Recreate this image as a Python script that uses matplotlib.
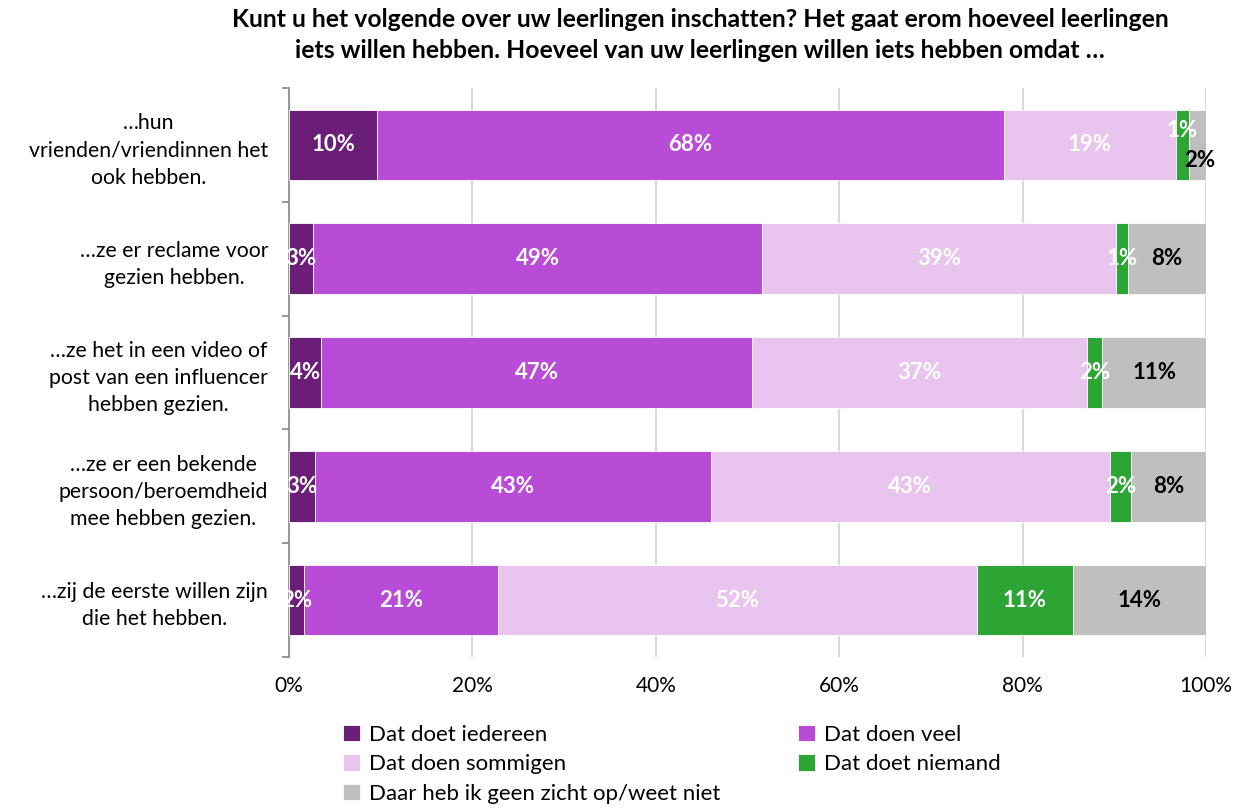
import matplotlib
matplotlib.use("Agg")
import matplotlib.pyplot as plt
import numpy as np

plt.rcParams['font.family'] = ['Lato', 'DejaVu Sans']

categories = [
    "…hun\nvrienden/vriendinnen het\nook hebben.",
    "…ze er reclame voor\ngezien hebben.",
    "…ze het in een video of\npost van een influencer\nhebben gezien.",
    "…ze er een bekende\npersoon/beroemdheid\nmee hebben gezien.",
    "…zij de eerste willen zijn\ndie het hebben.",
]
series_names = ["Dat doet iedereen", "Dat doen veel", "Dat doen sommigen",
                "Dat doet niemand", "Daar heb ik geen zicht op/weet niet"]
iedereen = [9.6, 2.6, 3.5, 2.8, 1.6]
veel = [68.4, 49.0, 47.0, 43.2, 21.2]
sommigen = [18.7, 38.6, 36.5, 43.5, 52.2]
niemand = [1.4, 1.3, 1.7, 2.3, 10.5]
weet_niet = [1.9, 8.5, 11.3, 8.2, 14.5]
labels = [
    ["10%", "3%", "4%", "3%", "2%"],
    ["68%", "49%", "47%", "43%", "21%"],
    ["19%", "39%", "37%", "43%", "52%"],
    ["1%", "1%", "2%", "2%", "11%"],
    ["2%", "8%", "11%", "8%", "14%"],
]
colors = ["#6A1E78", "#B84CD6", "#E8C4EE", "#2CA535", "#BFBFBF"]
text_colors = ["white", "white", "white", "white", "black"]

series = [iedereen, veel, sommigen, niemand, weet_niet]

fig = plt.figure(figsize=(12.39, 8.08), dpi=100)
ax = fig.add_axes([289/1239, 1 - 657/808, (1206-289)/1239, (657-88)/808])

y = np.arange(len(categories))
left = np.zeros(len(categories))
for si, (vals, col) in enumerate(zip(series, colors)):
    vals = np.array(vals)
    ax.barh(y, vals, left=left, height=0.62, color=col, edgecolor="white",
            linewidth=0.6, label=series_names[si], zorder=3)
    for i, v in enumerate(vals):
        cx = left[i] + v / 2
        cy = y[i]
        dx, dy = 0, 0
        if i == 0 and si == 3:
            dy = -0.13
        if i == 0 and si == 4:
            dx, dy = 0.3, 0.14
        ax.text(cx + dx, cy + dy, labels[si][i], ha="center", va="center",
                color=text_colors[si], fontsize=16, fontweight="bold", zorder=4)
    left += vals

ax.set_xlim(0, 100)
ax.set_ylim(len(categories) - 0.5, -0.5)
ax.set_xticks(np.arange(0, 101, 20))
ax.set_xticklabels([f"{v}%" for v in range(0, 101, 20)], fontsize=15)
ax.set_yticks(y)
ax.set_yticklabels(categories, fontsize=15.3, multialignment="center",
                   linespacing=1.45)
ax.set_yticks(np.arange(-0.5, len(categories), 1), minor=True)
ax.tick_params(axis="y", which="major", length=0, pad=15)
ax.tick_params(axis="y", which="minor", length=5, color="#888888", width=1.2)
ax.tick_params(axis="x", length=0, pad=14)
ax.grid(axis="x", color="#D9D9D9", linewidth=1.5, zorder=0)
for s in ["top", "right", "bottom"]:
    ax.spines[s].set_visible(False)
ax.spines["left"].set_color("#888888")
ax.spines["left"].set_linewidth(1.2)

fig.text(0.565, 1 - 35/808,
         "Kunt u het volgende over uw leerlingen inschatten? Het gaat erom hoeveel leerlingen\n"
         "iets willen hebben. Hoeveel van uw leerlingen willen iets hebben omdat …",
         ha="center", va="center", fontsize=17.8, fontweight="bold", linespacing=1.45)

handles, lbls = ax.get_legend_handles_labels()
leg_kw = dict(loc="upper left", ncol=1, frameon=False, fontsize=16,
              handlelength=0.75, handleheight=0.75, labelspacing=0.42,
              handletextpad=0.4, borderaxespad=0, borderpad=0)
col1 = [0, 2, 4]
col2 = [1, 3]
leg1 = fig.legend([handles[i] for i in col1], [lbls[i] for i in col1],
                  bbox_to_anchor=(343/1239, 1 - 725/808), **leg_kw)
leg2 = fig.legend([handles[i] for i in col2], [lbls[i] for i in col2],
                  bbox_to_anchor=(798/1239, 1 - 725/808), **leg_kw)

fig.savefig("out.png", dpi=100)
